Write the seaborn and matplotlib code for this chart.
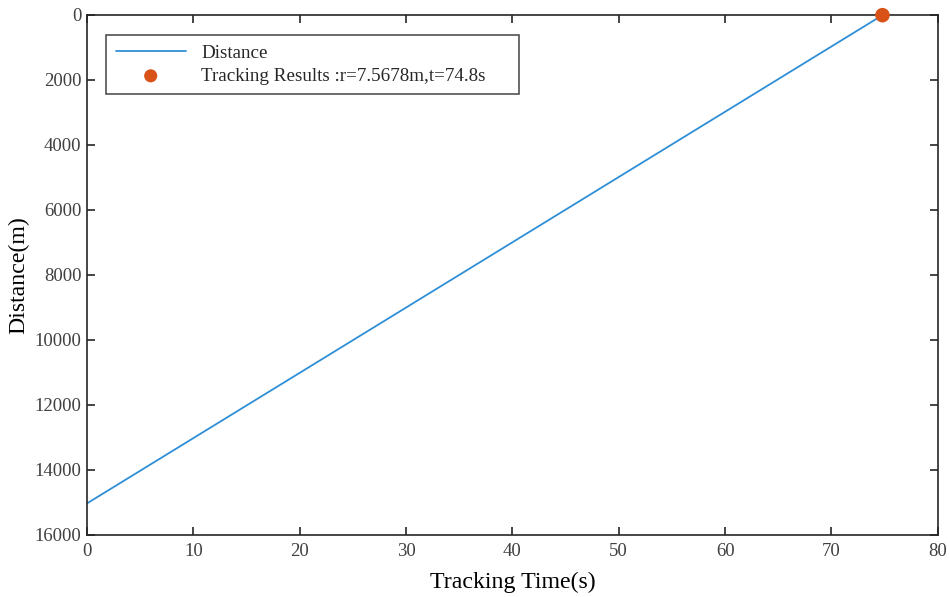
import matplotlib
matplotlib.use("Agg")
import matplotlib.pyplot as plt
import seaborn as sns
import pandas as pd

# Data
track_time = [0.0, 74.8]
distance = [15030.0, 7.5678]
result_t = [74.8]
result_r = [7.5678]
x_ticks = [0, 10, 20, 30, 40, 50, 60, 70, 80]
y_ticks = [0, 2000, 4000, 6000, 8000, 10000, 12000, 14000, 16000]

sns.set_theme(style="white")
plt.rcParams['font.family'] = ['Liberation Serif', 'DejaVu Serif']

fig = plt.figure(figsize=(9.5, 5.97), dpi=100)
ax = fig.add_axes([0.0916, 0.104, 0.8955, 0.871])

df_line = pd.DataFrame({"t": track_time, "d": distance})
df_pt = pd.DataFrame({"t": result_t, "r": result_r})

sns.lineplot(data=df_line, x="t", y="d", ax=ax, color="#2f8fd6", linewidth=1.3,
             label="Distance")
sns.scatterplot(data=df_pt, x="t", y="r", ax=ax, color="#d95319", s=110,
                edgecolor="none", zorder=5, clip_on=False,
                label="Tracking Results :r=7.5678m,t=74.8s")

ax.set_xlim(0, 80)
ax.set_ylim(16000, 0)
ax.set_xticks(x_ticks)
ax.set_yticks(y_ticks)
ax.set_xticklabels([str(v) for v in x_ticks])
ax.set_yticklabels([str(v) for v in y_ticks])

ax.tick_params(axis="both", which="both", direction="in", length=6, width=1.2,
               colors="#262626", labelcolor="#404040", labelsize=13.5,
               top=True, right=True, bottom=True, left=True)
ax.tick_params(axis="x", pad=6)
ax.tick_params(axis="y", pad=4)
for s in ax.spines.values():
    s.set_color("#262626")
    s.set_linewidth(1.2)
    s.set_visible(True)

ax.set_xlabel("Tracking Time(s)", fontsize=17.2, color="#000000", labelpad=8)
ax.set_ylabel("Distance(m)", fontsize=17.2, color="#000000", labelpad=4)

leg = ax.legend(loc="upper left", bbox_to_anchor=(0.0223, 0.5, 0.4853, 0.4615),
                mode="expand", borderaxespad=0, fontsize=13.7,
                frameon=True, fancybox=False, edgecolor="#262626",
                borderpad=0.5, handlelength=3.7, handletextpad=0.8,
                labelspacing=0.3, markerscale=0.9)
leg.get_frame().set_linewidth(1.2)

fig.savefig("out.png", dpi=100)
